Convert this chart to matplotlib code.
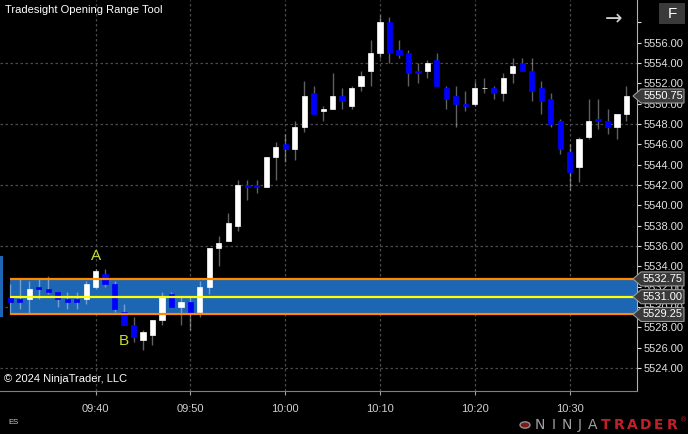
import numpy as np
import matplotlib.pyplot as plt
from matplotlib.patches import Polygon, Rectangle, Circle
from matplotlib.transforms import blended_transform_factory

# 1-minute ES bars, minutes after 09:30 (bar stamped at close)
minutes = list(range(1, 67))
opens = [5531.0, 5530.75, 5530.75, 5532.0, 5531.75, 5531.5, 5530.75, 5530.75, 5530.75, 5532.0,
         5533.25, 5532.25, 5529.5, 5528.25, 5526.75, 5527.25, 5528.75, 5531.25, 5530.0, 5530.5,
         5529.5, 5532.0, 5535.75, 5536.5, 5538.0, 5542.0, 5542.0, 5541.75, 5544.75, 5546.0,
         5545.5, 5547.75, 5551.0, 5549.25, 5549.5, 5550.75, 5549.75, 5551.75, 5553.25, 5555.0,
         5558.0, 5555.25, 5555.0, 5553.25, 5553.25, 5554.25, 5551.5, 5550.75, 5550.0, 5550.0,
         5551.5, 5551.5, 5551.0, 5553.0, 5554.0, 5553.25, 5551.5, 5550.5, 5548.25, 5545.25,
         5543.75, 5546.75, 5548.5, 5548.25, 5547.75, 5549.0]
highs = [5532.25, 5532.75, 5532.5, 5532.75, 5533.0, 5531.5, 5531.5, 5531.5, 5532.5, 5533.75,
         5533.75, 5532.5, 5530.25, 5529.0, 5527.75, 5528.75, 5531.5, 5531.5, 5531.0, 5531.0,
         5532.5, 5535.75, 5537.0, 5539.25, 5542.5, 5542.5, 5542.5, 5544.75, 5546.25, 5547.0,
         5548.25, 5552.25, 5551.75, 5549.75, 5553.0, 5551.5, 5551.75, 5553.25, 5556.25, 5558.75,
         5558.5, 5556.25, 5555.25, 5554.0, 5554.25, 5555.0, 5551.75, 5551.75, 5551.25, 5552.25,
         5552.5, 5551.75, 5553.0, 5554.5, 5554.5, 5554.5, 5552.25, 5551.0, 5548.5, 5546.0,
         5546.75, 5550.5, 5550.5, 5549.5, 5549.0, 5551.75]
lows = [5529.25, 5529.75, 5529.25, 5530.75, 5531.25, 5530.0, 5529.75, 5529.75, 5530.25, 5531.75,
        5532.0, 5529.5, 5528.25, 5526.5, 5525.75, 5526.25, 5528.25, 5530.0, 5528.25, 5527.75,
        5529.0, 5531.25, 5534.0, 5536.5, 5537.5, 5540.5, 5541.25, 5541.75, 5542.5, 5544.25,
        5544.5, 5547.25, 5549.0, 5548.25, 5549.5, 5549.5, 5549.5, 5551.25, 5551.75, 5554.5,
        5554.0, 5554.5, 5551.75, 5552.0, 5552.5, 5551.75, 5549.5, 5547.75, 5549.25, 5549.75,
        5551.0, 5550.5, 5550.25, 5552.0, 5553.25, 5550.25, 5549.0, 5547.75, 5545.0, 5541.5,
        5542.25, 5546.5, 5547.5, 5547.0, 5546.5, 5548.25]
closes = [5530.5, 5530.5, 5531.75, 5531.75, 5531.5, 5530.75, 5530.5, 5530.5, 5532.25, 5533.5,
          5532.25, 5529.75, 5528.25, 5527.0, 5527.5, 5528.75, 5531.0, 5530.0, 5530.5, 5529.25,
          5532.0, 5535.75, 5536.25, 5538.25, 5542.0, 5541.75, 5541.75, 5544.75, 5545.75, 5545.5,
          5547.75, 5550.75, 5549.0, 5549.5, 5550.75, 5550.25, 5551.5, 5552.75, 5555.0, 5558.0,
          5555.0, 5554.75, 5553.0, 5553.0, 5554.0, 5551.75, 5550.5, 5550.0, 5549.75, 5551.5,
          5551.5, 5551.0, 5552.5, 5553.75, 5553.25, 5551.25, 5550.25, 5548.0, 5545.5, 5543.25,
          5546.5, 5548.25, 5548.25, 5547.75, 5549.0, 5550.75]

# opening range levels
or_high = 5532.75
or_mid = 5531.00
or_low = 5529.25

time_ticks = [10, 20, 30, 40, 50, 60]
time_labels = ['09:40', '09:50', '10:00', '10:10', '10:20', '10:30']
price_ticks = list(np.arange(5524, 5559, 2))
grid_prices = [5524, 5530, 5536, 5542, 5548, 5554]

plt.rcParams['font.family'] = ['Liberation Sans', 'DejaVu Sans']

W, H = 688, 434
fig = plt.figure(figsize=(W / 100, H / 100), dpi=100, facecolor='black')
ax = fig.add_axes([0, (H - 391) / H, 637 / W, 391 / H], facecolor='black')

xmin = -0.8 / 9.48
xmax = (637 - 0.8) / 9.48
ymin, ymax = 5521.72, 5560.2
ax.set_xlim(xmin, xmax)
ax.set_ylim(ymin, ymax)

# grid
for t in time_ticks:
    ax.axvline(t, color='#4a4a4a', lw=0.9, ls=(0, (2, 2)), zorder=0)
for p in grid_prices:
    ax.axhline(p, color='#4a4a4a', lw=0.9, ls=(0, (2, 2)), zorder=0)

# opening range band
x0 = minutes[0]
ax.add_patch(Rectangle((x0, or_low), xmax - x0, or_high - or_low,
                       facecolor='#1c66b4', edgecolor='none', zorder=1))
ax.hlines([or_high, or_low], x0, xmax, colors='#ff8a00', lw=1.6, zorder=4)
ax.hlines(or_mid, x0, xmax, colors='#ffff00', lw=1.6, zorder=4)
ax.add_patch(Rectangle((xmin, 5529.0), 0.3, 6.0, facecolor='#1c66b4',
                       edgecolor='none', zorder=1))

# candles
x = np.array(minutes)
o = np.array(opens)
c = np.array(closes)
up = c >= o
ax.vlines(x, lows, highs, colors=(1, 1, 1, 0.38), lw=1.0, zorder=2)
body_col = np.where(up, '#ffffff', '#0000ff')
ax.bar(x, c - o, bottom=o, width=0.55, color=body_col, edgecolor=body_col,
       linewidth=0.5, zorder=3)

ax.text(10, 5535.0, 'A', color='#c8dc30', fontsize=11, ha='center', va='center', zorder=5)
ax.text(13, 5526.6, 'B', color='#c8dc30', fontsize=11, ha='center', va='center', zorder=5)

# axes styling
for s in ['top', 'left']:
    ax.spines[s].set_visible(False)
ax.spines['right'].set_color('#b0b0b0')
ax.spines['bottom'].set_color('#808080')
ax.yaxis.tick_right()
ax.set_yticks(price_ticks)
ax.set_yticklabels(['%.2f' % p for p in price_ticks[:-1]] + [''])
ax.set_xticks(time_ticks)
ax.set_xticklabels(time_labels)
ax.tick_params(axis='y', colors='#e0e0e0', labelsize=8, length=3, pad=2)
ax.tick_params(axis='x', colors='#d0d0d0', labelsize=8, length=3, pad=6)
ax.tick_params(axis='x', color='#a0a0a0')

# price markers on the right axis
tr = blended_transform_factory(fig.transFigure, ax.transData)
hh = 7 / 10.16
for p in [closes[-1], or_high, or_mid, or_low]:
    pts = [(633 / W, p), (641 / W, p + hh), (684 / W, p + hh), (684 / W, p - hh), (641 / W, p - hh)]
    fig.patches.append(Polygon(pts, closed=True, transform=tr, facecolor='#3a3a3a',
                               edgecolor='#9a9a9a', lw=0.8, zorder=10))
    fig.text(663 / W, p, '%.2f' % p, transform=tr, color='white', fontsize=8,
             ha='center', va='center', zorder=11)

# chart texts
fig.text(5 / W, 1 - 10 / H, 'Tradesight Opening Range Tool', color='white', fontsize=8,
         ha='left', va='center')
fig.text(4 / W, 1 - 379 / H, '\u00a9 2024 NinjaTrader, LLC', color='white', fontsize=8,
         ha='left', va='center')
fig.text(8 / W, 1 - 423 / H, 'ES', color='#d0d0d0', fontsize=5.5, ha='left', va='center')
fig.text(614 / W, 1 - 19 / H, '\u2192', color='#d0d0d0', fontsize=15, ha='center',
         va='center', family='DejaVu Sans')
fig.patches.append(Rectangle((659 / W, 1 - 24 / H), 26 / W, 21 / H, transform=fig.transFigure,
                             facecolor='#3a3a3a', edgecolor='none'))
fig.text(672 / W, 1 - 13.5 / H, 'F', color='white', fontsize=11, ha='center', va='center')

# NinjaTrader logo
fig.patches.append(Circle((525 / W, 1 - 425 / H), 5 / W, transform=fig.transFigure,
                          facecolor='#7a1a1a', edgecolor='#909090', lw=1))
logo = 'NINJATRADER'
for i, ch in enumerate(logo):
    col = '#a0a0a0' if i < 5 else '#c0202a'
    wt = 'normal' if i < 5 else 'bold'
    fig.text((540 + i * 13.2) / W, 1 - 425 / H, ch, color=col, fontsize=10, weight=wt,
             ha='center', va='center', family='DejaVu Sans')
fig.text(686 / W, 1 - 421 / H, '\u00ae', color='#c0202a', fontsize=5, ha='right', va='center')

fig.savefig('out.png', dpi=100, facecolor='black')
